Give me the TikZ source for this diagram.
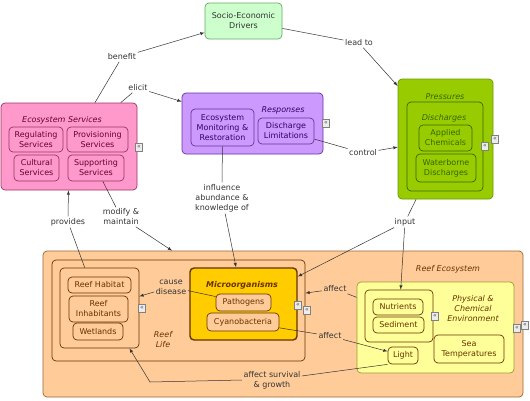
\documentclass[tikz,border=0pt]{standalone}
\usepackage{fontspec}
\setmainfont{DejaVu Sans}
\definecolor{socfill}{HTML}{CCFFCC}
\definecolor{socline}{HTML}{66AA66}
\definecolor{esfill}{HTML}{FF99CC}
\definecolor{esline}{HTML}{993366}
\definecolor{estext}{HTML}{660033}
\definecolor{rsfill}{HTML}{CC99FF}
\definecolor{rsline}{HTML}{663399}
\definecolor{rstext}{HTML}{330066}
\definecolor{prfill}{HTML}{99CC00}
\definecolor{prline}{HTML}{669900}
\definecolor{prtext}{HTML}{336600}
\definecolor{rffill}{HTML}{FFCC99}
\definecolor{rfline}{HTML}{996633}
\definecolor{rftext}{HTML}{663300}
\definecolor{mofill}{HTML}{FFCC00}
\definecolor{phfill}{HTML}{FFFF99}
\definecolor{phline}{HTML}{999933}
\definecolor{linkgray}{HTML}{333333}
\tikzset{
        box/.style={draw, rounded corners=4pt, line width=0.7pt, inner sep=0pt, align=center},
        ttl/.style={font=\fontsize{8}{10}\selectfont\itshape, align=center, inner sep=1pt},
        lbl/.style={text=linkgray, align=center, inner sep=1.5pt},
        link/.style={draw=linkgray, line width=0.5pt},
        arr/.style={link, -latex},
        icon/.style={draw=gray, fill=gray!15, inner sep=0pt, minimum width=7pt, minimum height=8pt, font=\fontsize{6}{6}\selectfont, text=black!70}
}
\begin{document}
\begin{tikzpicture}[x=1pt, y=-1pt, every node/.append style={font=\fontsize{8}{10}\selectfont}]

        \useasboundingbox (0,0) rectangle (530,400);

        \begin{scope}[]
        \node[box, draw=socline, fill=socfill, text=linkgray, minimum width=77pt, minimum height=36pt] (socio) at (243.5,21) {Socio-Economic\\Drivers};
        \end{scope}

        \begin{scope}[every node/.append style={draw=esline, text=estext}]
        \node[box, fill=esfill, minimum width=136pt, minimum height=87pt] (es) at (69,146.5) {};
        \node[ttl, draw=none] (estitle) at (62,120) {Ecosystem Services};
        \node[box, minimum width=54pt, minimum height=25pt] (reg) at (36,139.5) {Regulating\\Services};
        \node[box, minimum width=61pt, minimum height=25pt] (prov) at (97.5,139.5) {Provisioning\\Services};
        \node[box, minimum width=45pt, minimum height=26pt] (cult) at (36.5,168) {Cultural\\Services};
        \node[box, minimum width=56pt, minimum height=26pt] (supp) at (96,168) {Supporting\\Services};
        \end{scope}
        \node[icon] (esicon) at (139,147) {«};

        \begin{scope}[every node/.append style={draw=rsline, text=rstext}]
        \node[box, fill=rsfill, minimum width=141pt, minimum height=61pt] (resp) at (252.5,123.5) {};
        \node[ttl, draw=none] (resptitle) at (283,110) {Responses};
        \node[box, minimum width=63pt, minimum height=37pt] (monitor) at (222.5,127.5) {Ecosystem\\Monitoring \&\\Restoration};
        \node[box, minimum width=56pt, minimum height=26pt] (dlimit) at (286,131) {Discharge\\Limitations};
        \end{scope}
        \node[icon] (respicon) at (326,123) {«};

        \begin{scope}[every node/.append style={draw=prline, text=prtext}]
        \node[box, fill=prfill, minimum width=95pt, minimum height=120pt] (press) at (445.5,139) {};
        \node[ttl, draw=none] (presstitle) at (445,97) {Pressures};
        \node[box, draw=prtext, minimum width=76pt, minimum height=89pt] (disch) at (445,146.5) {};
        \node[ttl, draw=none] (dischtitle) at (444,118) {Discharges};
        \node[box, draw=prtext, minimum width=53pt, minimum height=26pt] (applied) at (445.5,138) {Applied\\Chemicals};
        \node[box, draw=prtext, minimum width=60pt, minimum height=28pt] (water) at (446,168) {Waterborne\\Discharges};
        \end{scope}
        \node[icon] (dischicon) at (485,146) {«};
        \node[icon] (pressicon) at (495,139) {«};

        \begin{scope}[every node/.append style={draw=rfline, text=rftext}]
        \node[box, fill=rffill, minimum width=480pt, minimum height=146pt] (reef) at (283,324) {};
        \node[ttl, draw=none] (reeftitle) at (448,269) {Reef Ecosystem};
        \node[box, draw=rftext, minimum width=253pt, minimum height=101pt] (life) at (178.5,310.5) {};
        \node[ttl, draw=none] (lifetitle) at (163,340) {Reef\\Life};
        \node[box, draw=rftext, minimum width=79pt, minimum height=80pt] (habbox) at (99.5,308) {};
        \node[box, draw=rftext, minimum width=63pt, minimum height=16pt] (habitat) at (99.5,285) {Reef Habitat};
        \node[box, draw=rftext, minimum width=59pt, minimum height=26pt] (inhab) at (98.5,309) {Reef\\Inhabitants};
        \node[box, draw=rftext, minimum width=50pt, minimum height=17pt] (wetlands) at (98,331.5) {Wetlands};
        \node[box, draw=rftext, fill=mofill, line width=1.4pt, minimum width=107pt, minimum height=72pt] (micro) at (243.5,304) {};
        \node[ttl, draw=none, font=\fontsize{8}{10}\selectfont\bfseries\itshape] (microtitle) at (242,285) {Microorganisms};
        \node[box, draw=rftext, fill=rffill, minimum width=55pt, minimum height=17pt] (pathogens) at (243.5,302.5) {Pathogens};
        \node[box, draw=rftext, fill=rffill, minimum width=72pt, minimum height=18pt] (cyano) at (243,322) {Cyanobacteria};
        \end{scope}
        \node[icon] (habicon) at (142,308) {«};
        \node[icon] (microicon) at (298,305) {«};
        \node[icon] (lifeicon) at (307,310) {«};

        \begin{scope}[every node/.append style={draw=phline, text=rftext}]
        \node[box, fill=phfill, minimum width=157pt, minimum height=91pt] (phys) at (435.5,327.5) {};
        \node[ttl, draw=none] (phystitle) at (473,309) {Physical \&\\Chemical\\Environment};
        \node[box, draw=rftext, minimum width=68pt, minimum height=52pt] (nsbox) at (399,316) {};
        \node[box, draw=rftext, minimum width=50pt, minimum height=16pt] (nutrients) at (398,307) {Nutrients};
        \node[box, draw=rftext, minimum width=51pt, minimum height=16pt] (sediment) at (398.5,325) {Sediment};
        \node[box, draw=rftext, minimum width=30pt, minimum height=17pt] (light) at (403,355.5) {Light};
        \node[box, draw=rftext, minimum width=70pt, minimum height=28pt] (seatemp) at (469,349) {Sea\\Temperatures};
        \end{scope}
        \node[icon] (nsicon) at (435,316) {«};
        \node[icon] (physicon) at (517,328) {«};
        \node[icon] (reeficon) at (525,325) {«};

        \node[lbl] (benefit) at (122,57) {benefit};
        \node[lbl] (leadto) at (359,43) {lead to};
        \node[lbl] (elicit) at (138,88) {elicit};
        \node[lbl] (control) at (363,153) {control};
        \node[lbl] (influence) at (222,198) {influence\\abundance \&\\knowledge of};
        \node[lbl] (input) at (405,222) {input};
        \node[lbl] (provides) at (68,222) {provides};
        \node[lbl] (modify) at (121,217) {modify \&\\maintain};
        \node[lbl] (cause) at (171,287) {cause\\disease};
        \node[lbl] (affectenv) at (335,289) {affect};
        \node[lbl] (affectcya) at (330,336) {affect};
        \node[lbl] (survival) at (272,380) {affect survival\\\& growth};

        \draw[link] (es) -- (benefit);
        \draw[arr] (benefit) -- (socio);
        \draw[link] (socio) -- (leadto);
        \draw[arr] (leadto) -- (press);
        \draw[link] (es) -- (elicit);
        \draw[arr] (elicit) -- (resp);
        \draw[link] (dlimit) -- (control);
        \draw[arr] (control) -- (press);
        \draw[link] (monitor) -- (influence);
        \draw[arr] (influence) -- (micro);
        \draw[link] (press) -- (input);
        \draw[arr] (input) -- (micro);
        \draw[arr] (input) -- (nsbox);
        \draw[link] (habbox) -- (provides);
        \draw[arr] (provides) -- (es);
        \draw[link] (supp) -- (modify);
        \draw[arr] (modify) -- (reef);
        \draw[link] (pathogens) -- (cause);
        \draw[arr] (cause) -- (habbox);
        \draw[link] (phys) -- (affectenv);
        \draw[arr] (affectenv) -- (life);
        \draw[link] (cyano) -- (affectcya);
        \draw[arr] (affectcya) -- (light);
        \draw[link] (light.south west) -- (survival);
        \draw[arr] (survival.west) -- (150,382) -- ([xshift=30pt]habbox.south);
        \end{tikzpicture}
\end{document}
